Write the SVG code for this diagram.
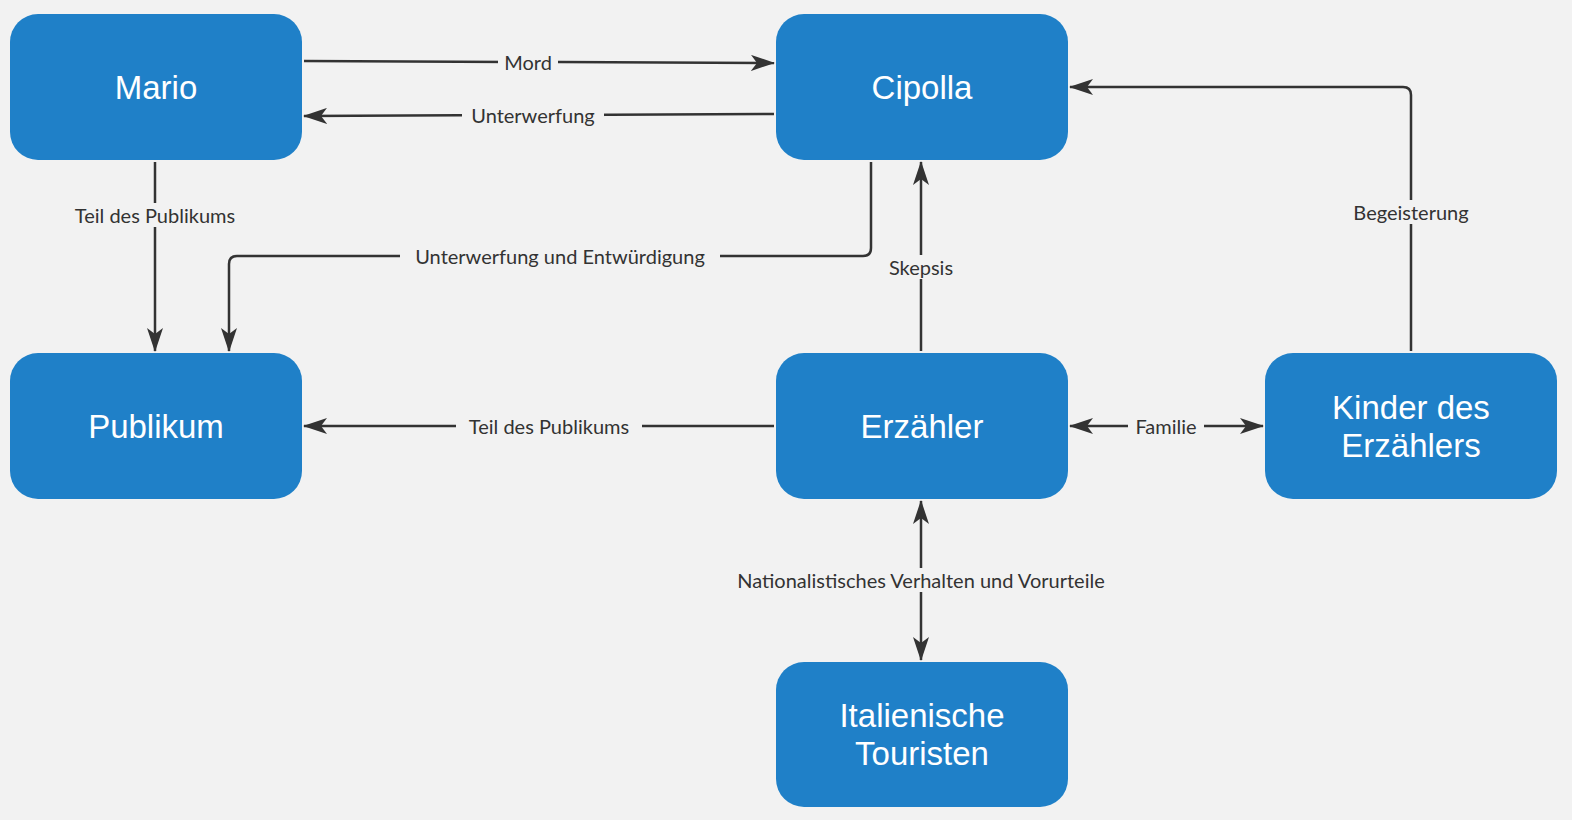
<svg xmlns="http://www.w3.org/2000/svg" width="1572" height="820" viewBox="0 0 1572 820">
<style>
.n{fill:#1f80c8}
.t{fill:#fff;font-family:"Liberation Sans",Arial,sans-serif;font-size:33px;text-anchor:middle;dominant-baseline:central}
.c{fill:none;stroke:#333;stroke-width:2.5}
.l{fill:#333;font-family:Lato,"Open Sans",sans-serif;font-size:20px;text-anchor:middle;dominant-baseline:central}
.b{fill:#f2f2f2}
</style>
<defs><marker id="a" viewBox="0 0 10 10" refX="9" refY="5" markerWidth="10" markerHeight="10" markerUnits="userSpaceOnUse" orient="auto-start-reverse"><path d="M0,0L10,5L0,10L3,5z" fill="#333"/></marker>
<marker id="h" viewBox="0 0 24 16" refX="23" refY="8" markerWidth="24" markerHeight="16" markerUnits="userSpaceOnUse" orient="auto-start-reverse"><path d="M0,0L24,8L0,16L6,8z" fill="#333"/></marker></defs>
<rect width="1572" height="820" fill="#f2f2f2"/>
<g id="connectors">
<path class="c" d="M304,61L774,63" marker-end="url(#h)"/>
<path class="c" d="M774,114L304,116" marker-end="url(#h)"/>
<path class="c" d="M155,162V351" marker-end="url(#h)"/>
<path class="c" d="M871,162V248Q871,256 863,256H237Q229,256 229,264V351" marker-end="url(#h)"/>
<path class="c" d="M921,351V162" marker-end="url(#h)"/>
<path class="c" d="M1411,351V95Q1411,87 1403,87H1070" marker-end="url(#h)"/>
<path class="c" d="M774,426H304" marker-end="url(#h)"/>
<path class="c" d="M1070,426H1263" marker-start="url(#h)" marker-end="url(#h)"/>
<path class="c" d="M921,501V660" marker-start="url(#h)" marker-end="url(#h)"/>
<rect class="b" x="498" y="50" width="60" height="24"/><text class="l" x="528" y="62">Mord</text>
<rect class="b" x="462" y="103" width="142" height="24"/><text class="l" x="533" y="115">Unterwerfung</text>
<rect class="b" x="64" y="203" width="182" height="24"/><text class="l" x="155" y="215">Teil des Publikums</text>
<rect class="b" x="400" y="244" width="320" height="24"/><text class="l" x="560" y="256">Unterwerfung und Entwürdigung</text>
<rect class="b" x="882" y="255" width="78" height="24"/><text class="l" x="921" y="267">Skepsis</text>
<rect class="b" x="1346" y="200" width="130" height="24"/><text class="l" x="1411" y="212">Begeisterung</text>
<rect class="b" x="456" y="414" width="186" height="24"/><text class="l" x="549" y="426">Teil des Publikums</text>
<rect class="b" x="1128" y="414" width="76" height="24"/><text class="l" x="1166" y="426">Familie</text>
<rect class="b" x="720" y="568" width="402" height="24"/><text class="l" x="921" y="580">Nationalistisches Verhalten und Vorurteile</text>
</g>
<g id="mario"><rect class="n" x="10" y="14" width="292" height="146" rx="28"/><text class="t" x="156" y="87">Mario</text></g>
<g id="cipolla"><rect class="n" x="776" y="14" width="292" height="146" rx="28"/><text class="t" x="922" y="87">Cipolla</text></g>
<g id="publikum"><rect class="n" x="10" y="353" width="292" height="146" rx="28"/><text class="t" x="156" y="426">Publikum</text></g>
<g id="erzaehler"><rect class="n" x="776" y="353" width="292" height="146" rx="28"/><text class="t" x="922" y="426">Erzähler</text></g>
<g id="kinder"><rect class="n" x="1265" y="353" width="292" height="146" rx="28"/><text class="t" x="1411" y="407">Kinder des</text><text class="t" x="1411" y="445">Erzählers</text></g>
<g id="touristen"><rect class="n" x="776" y="662" width="292" height="145" rx="28"/><text class="t" x="922" y="715">Italienische</text><text class="t" x="922" y="753">Touristen</text></g>
</svg>
